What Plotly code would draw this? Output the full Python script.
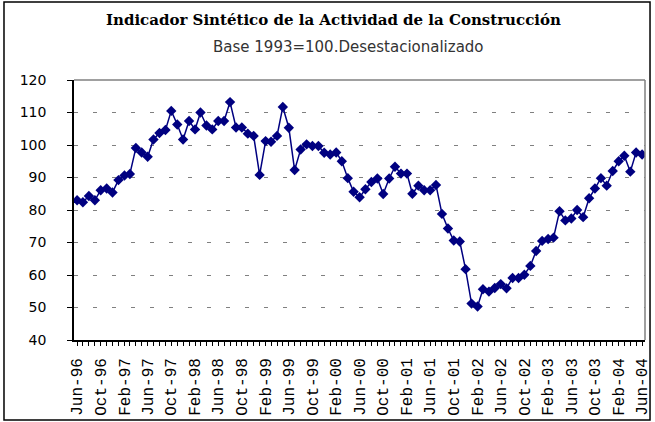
import pandas as pd
import plotly.graph_objects as go

# Monthly index, Jun-1996 .. Jun-2004
start_month = "1996-06-01"
n_months = 97
values = [
    83.0, 82.4, 84.3, 83.0, 86.1, 86.6, 85.4, 89.2, 90.6, 91.1,
    99.1, 97.7, 96.4, 101.7, 103.7, 104.6, 110.5, 106.3, 101.7, 107.4,
    104.8, 110.0, 106.0, 104.8, 107.4, 107.4, 113.2, 105.4, 105.4, 103.5,
    102.8, 90.8, 101.2, 101.0, 102.8, 111.7, 105.3, 92.3, 98.6, 100.2,
    99.7, 99.7, 97.6, 97.1, 97.7, 95.0, 89.8, 85.6, 83.9, 86.4,
    88.6, 89.7, 84.9, 89.7, 93.3, 91.2, 91.2, 85.0, 87.5, 86.1,
    86.1, 87.7, 78.8, 74.3, 70.6, 70.3, 61.8, 51.2, 50.3, 55.6,
    54.9, 56.0, 57.2, 55.9, 59.1, 59.1, 60.1, 62.8, 67.4, 70.5,
    71.1, 71.5, 79.6, 76.8, 77.4, 80.0, 77.8, 83.6, 86.6, 89.8,
    87.5, 92.0, 95.0, 96.7, 91.8, 97.7, 97.1,
]
title_text = "Indicador Sintético de la Actividad de la Construcción"
subtitle_text = "Base 1993=100.Desestacionalizado"
y_ticks = [40, 50, 60, 70, 80, 90, 100, 110, 120]

dates = pd.date_range(start_month, periods=n_months, freq="MS")

fig = go.Figure()
fig.add_trace(go.Scatter(
    x=dates, y=values, mode="lines+markers",
    line=dict(color="#000080", width=1.5),
    marker=dict(symbol="diamond", size=8, color="#000080"),
    showlegend=False,
))

fig.update_layout(
    width=655, height=422,
    margin=dict(l=74, r=10, t=80, b=82, autoexpand=False),
    paper_bgcolor="white", plot_bgcolor="white",
    font=dict(family="DejaVu Sans", color="#000000"),
    xaxis=dict(
        type="date", automargin=False,
        range=["1996-05-16", "2004-06-16"],
        tick0="1996-06-01", dtick="M4", tickformat="%b-%y",
        tickangle=-90,
        tickfont=dict(family="Liberation Mono, Courier New, monospace", size=16, color="#000000"),
        showline=True, linecolor="#000000", linewidth=1.5,
        ticks="outside", ticklen=4, tickcolor="#000000",
        ticklabelposition="outside", ticklabelstandoff=6,
        minor=dict(dtick="M1", ticks="outside", ticklen=4, tickcolor="#000000", showgrid=False),
        showgrid=False, zeroline=False,
    ),
    yaxis=dict(
        automargin=False,
        range=[40, 120], tickvals=y_ticks,
        tickfont=dict(family="DejaVu Sans", size=14, color="#000000"),
        showline=True, linecolor="#000000", linewidth=1.5,
        ticks="outside", ticklen=5, tickcolor="#000000",
        ticklabelposition="outside", ticklabelstandoff=18,
        showgrid=True, gridcolor="#808080", gridwidth=1, griddash="4px, 15px",
        zeroline=False,
    ),
    shapes=[
        dict(type="line", xref="paper", yref="paper", x0=0, x1=1, y0=1, y1=1,
             line=dict(color="#808080", width=1.5)),
        dict(type="line", xref="paper", yref="paper", x0=1, x1=1, y0=0, y1=1,
             line=dict(color="#808080", width=1.5)),
        dict(type="rect", xref="paper", yref="paper",
             x0=-0.1226, x1=1.0088, y0=-0.3077, y1=1.3,
             line=dict(color="#000000", width=1.5), layer="below"),
    ],
    annotations=[
        dict(text="<b>" + title_text + "</b>", xref="paper", yref="paper",
             x=0.4536, y=1.2308, showarrow=False, xanchor="center", yanchor="middle",
             font=dict(family="DejaVu Serif", size=15, color="#000000")),
        dict(text=subtitle_text, xref="paper", yref="paper",
             x=0.4816, y=1.127, showarrow=False, xanchor="center", yanchor="middle",
             font=dict(family="DejaVu Sans", size=15, color="#333333")),
    ],
)

fig.write_html("out.html", config={"displayModeBar": False},
               post_script="document.body.style.margin='0';document.body.style.padding='0';")
